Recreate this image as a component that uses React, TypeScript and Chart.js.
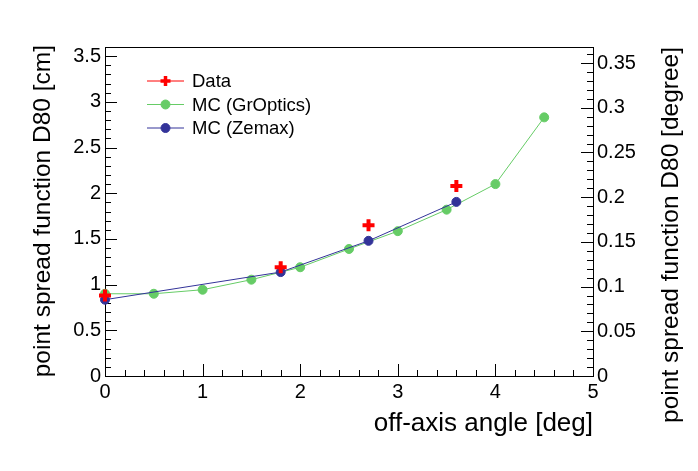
import { useEffect, useRef } from "react";
import { Chart, registerables } from "chart.js";
import type { Plugin } from "chart.js";
import { drawPoint } from "chart.js/helpers";

Chart.register(...registerables);

// measured points, off-axis angle [deg] vs D80 [cm]
const dataAngle = [0, 1.8, 2.7, 3.6];
const dataPsf = [0.88, 1.19, 1.65, 2.08];
const grOpticsAngle = [0, 0.5, 1, 1.5, 2, 2.5, 3, 3.5, 4, 4.5];
const grOpticsPsf = [0.9, 0.9, 0.944, 1.054, 1.19, 1.39, 1.585, 1.82, 2.1, 2.83];
const zemaxAngle = [0, 1.8, 2.7, 3.6];
const zemaxPsf = [0.835, 1.137, 1.479, 1.905];

// axes
const xTicks = [0, 1, 2, 3, 4, 5];
const xTickLabels = ["0", "1", "2", "3", "4", "5"];
const cmTicks = [0, 0.5, 1, 1.5, 2, 2.5, 3, 3.5];
const cmTickLabels = ["0", "0.5", "1", "1.5", "2", "2.5", "3", "3.5"];
const degTicks = [0, 0.05, 0.1, 0.15, 0.2, 0.25, 0.3, 0.35];
const degTickLabels = ["0", "0.05", "0.1", "0.15", "0.2", "0.25", "0.3", "0.35"];

const X_MAX = 5;
const CM_MAX = 3.6;
const DEG_MAX = 0.368;

const FONT = "'Liberation Sans', Arial, Helvetica, sans-serif";

// ROOT-like frame with inside ticks (major + 4 minor)
const frame: Plugin = {
  id: "rootFrame",
  beforeDatasetsDraw(chart) {
    const { ctx, chartArea: a, scales } = chart;
    ctx.save();
    ctx.strokeStyle = "#000";
    ctx.lineWidth = 1;
    ctx.strokeRect(a.left + 0.5, a.top + 0.5, a.right - a.left, a.bottom - a.top);

    const tickSet = (
      scaleId: string,
      majors: number[],
      max: number,
      draw: (p: number, len: number) => void
    ) => {
      const s = scales[scaleId];
      const step = (majors[1] - majors[0]) / 5;
      for (let i = 0; i * step <= max + 1e-9; i++) {
        draw(s.getPixelForValue(i * step), i % 5 === 0 ? 12 : 6);
      }
    };

    ctx.beginPath();
    tickSet("x", xTicks, X_MAX, (p, len) => {
      const x = Math.round(p) + 0.5;
      ctx.moveTo(x, a.bottom);
      ctx.lineTo(x, a.bottom - len);
    });
    tickSet("y", cmTicks, CM_MAX, (p, len) => {
      const y = Math.round(p) + 0.5;
      ctx.moveTo(a.left, y);
      ctx.lineTo(a.left + len, y);
    });
    tickSet("y2", degTicks, DEG_MAX, (p, len) => {
      const y = Math.round(p) + 0.5;
      ctx.moveTo(a.right, y);
      ctx.lineTo(a.right - len, y);
    });
    ctx.stroke();
    ctx.restore();
  },
  afterDraw(chart) {
    const { ctx, chartArea: a } = chart;
    ctx.save();
    ctx.fillStyle = "#000";

    // axis titles
    ctx.font = `26px ${FONT}`;
    ctx.textAlign = "right";
    ctx.textBaseline = "alphabetic";
    ctx.fillText("off-axis angle [deg]", a.right, 431);

    ctx.font = `24.5px ${FONT}`;
    ctx.save();
    ctx.translate(50, a.top - 2);
    ctx.rotate(-Math.PI / 2);
    ctx.fillText("point spread function D80 [cm]", 0, 0);
    ctx.restore();

    ctx.save();
    ctx.translate(678, a.top);
    ctx.rotate(-Math.PI / 2);
    ctx.fillText("point spread function D80 [degree]", 0, 0);
    ctx.restore();

    // legend
    ctx.font = `18.5px ${FONT}`;
    ctx.textAlign = "left";
    ctx.textBaseline = "middle";
    const rows = [81, 104.5, 128];
    chart.data.datasets.forEach((ds: any, i) => {
      const y = rows[i];
      const isCross = ds.pointStyle === "cross";
      ctx.strokeStyle = ds.borderColor;
      ctx.lineWidth = 1;
      ctx.beginPath();
      ctx.moveTo(147, y);
      ctx.lineTo(184, y);
      ctx.stroke();
      ctx.fillStyle = ds.backgroundColor;
      ctx.lineWidth = isCross ? 3.5 : 1;
      drawPoint(
        ctx,
        {
          pointStyle: ds.pointStyle,
          radius: isCross ? 5 : 4.5,
          borderWidth: isCross ? 3.5 : 1,
          rotation: 0,
        },
        165.5,
        y
      );
      ctx.fillStyle = "#000";
      ctx.fillText(ds.label, 192, y + 1);
    });
    ctx.restore();
  },
};

const toPoints = (xs: number[], ys: number[]) => xs.map((x, i) => ({ x, y: ys[i] }));

export default function App() {
  const canvasRef = useRef<HTMLCanvasElement | null>(null);
  const chartRef = useRef<Chart | null>(null);

  useEffect(() => {
    if (!canvasRef.current) return;
    if (chartRef.current) chartRef.current.destroy();

    chartRef.current = new Chart(canvasRef.current, {
      type: "scatter",
      data: {
        datasets: [
          {
            label: "Data",
            data: toPoints(dataAngle, dataPsf),
            showLine: false,
            borderColor: "#ff0000",
            backgroundColor: "#ff0000",
            pointStyle: "cross",
            pointRadius: 6,
            pointBorderWidth: 4,
            clip: false,
            order: 0,
          },
          {
            label: "MC (GrOptics)",
            data: toPoints(grOpticsAngle, grOpticsPsf),
            showLine: true,
            borderColor: "#66cc66",
            backgroundColor: "#66cc66",
            borderWidth: 1,
            pointStyle: "circle",
            pointRadius: 4.5,
            pointBorderWidth: 1,
            clip: false,
            order: 2,
          },
          {
            label: "MC (Zemax)",
            data: toPoints(zemaxAngle, zemaxPsf),
            showLine: true,
            borderColor: "#333399",
            backgroundColor: "#333399",
            borderWidth: 1,
            pointStyle: "circle",
            pointRadius: 4.5,
            pointBorderWidth: 1,
            clip: false,
            order: 1,
          },
        ],
      },
      options: {
        animation: false,
        responsive: true,
        maintainAspectRatio: false,
        layout: { padding: { top: 47, left: 0, right: 0, bottom: 0 } },
        plugins: {
          legend: { display: false },
          tooltip: { enabled: false },
        },
        scales: {
          x: {
            type: "linear",
            position: "bottom",
            min: 0,
            max: X_MAX,
            grid: { display: false, drawTicks: false },
            border: { display: false },
            afterBuildTicks: (s) => {
              s.ticks = xTicks.map((value) => ({ value }));
            },
            afterFit: (s) => {
              s.height = 95;
            },
            ticks: {
              autoSkip: false,
              maxRotation: 0,
              padding: 4,
              color: "#000",
              font: { family: FONT, size: 20 },
              callback: (_v, i) => xTickLabels[i],
            },
          },
          y: {
            type: "linear",
            position: "left",
            min: 0,
            max: CM_MAX,
            grid: { display: false, drawTicks: false },
            border: { display: false },
            afterBuildTicks: (s) => {
              s.ticks = cmTicks.map((value) => ({ value }));
            },
            afterFit: (s) => {
              s.width = 105;
            },
            ticks: {
              autoSkip: false,
              padding: 4,
              color: "#000",
              font: { family: FONT, size: 20 },
              callback: (_v, i) => cmTickLabels[i],
            },
          },
          y2: {
            type: "linear",
            position: "right",
            min: 0,
            max: DEG_MAX,
            grid: { display: false, drawTicks: false },
            border: { display: false },
            afterBuildTicks: (s) => {
              s.ticks = degTicks.map((value) => ({ value }));
            },
            afterFit: (s) => {
              s.width = 105;
            },
            ticks: {
              autoSkip: false,
              padding: 4,
              color: "#000",
              font: { family: FONT, size: 20 },
              callback: (_v, i) => degTickLabels[i],
            },
          },
        },
      },
      plugins: [frame],
    });

    return () => {
      if (chartRef.current) {
        chartRef.current.destroy();
        chartRef.current = null;
      }
    };
  }, []);

  return (
    <div
      style={{
        position: "fixed",
        left: 0,
        top: 0,
        width: 698,
        height: 471,
        background: "#fff",
      }}
    >
      <canvas ref={canvasRef} />
    </div>
  );
}
